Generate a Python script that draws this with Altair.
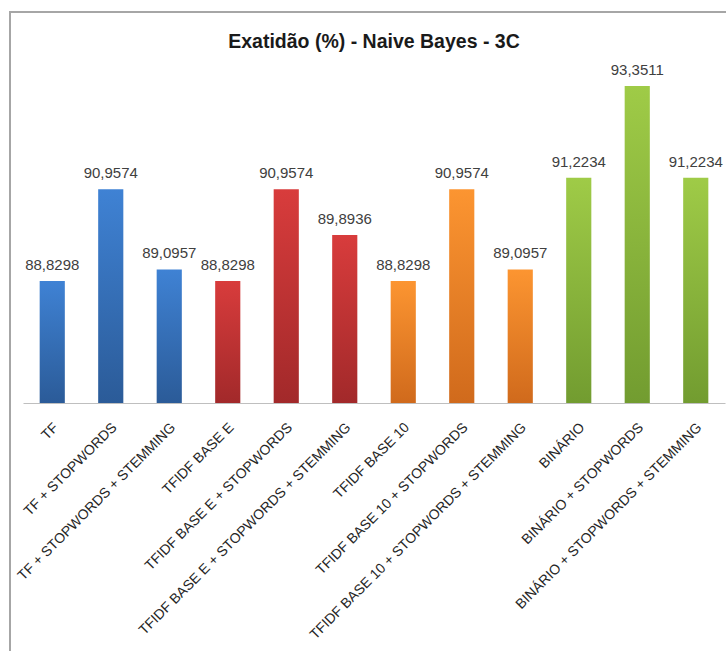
import altair as alt
import pandas as pd

categories = [
    "TF", "TF + STOPWORDS", "TF + STOPWORDS + STEMMING",
    "TFIDF BASE E", "TFIDF BASE E + STOPWORDS", "TFIDF BASE E + STOPWORDS + STEMMING",
    "TFIDF BASE 10", "TFIDF BASE 10 + STOPWORDS", "TFIDF BASE 10 + STOPWORDS + STEMMING",
    "BINÁRIO", "BINÁRIO + STOPWORDS", "BINÁRIO + STOPWORDS + STEMMING",
]
values = [88.8298, 90.9574, 89.0957, 88.8298, 90.9574, 89.8936,
          88.8298, 90.9574, 89.0957, 91.2234, 93.3511, 91.2234]
groups = ["TF"] * 3 + ["TFIDF E"] * 3 + ["TFIDF 10"] * 3 + ["BIN"] * 3

group_colors = {
    "TF": ("#3f82d4", "#2b5b98"),
    "TFIDF E": ("#d83c3c", "#a2292a"),
    "TFIDF 10": ("#fc9531", "#d06a1c"),
    "BIN": ("#9fcb47", "#729c30"),
}

df = pd.DataFrame({"cat": categories, "val": values, "grp": groups})

FONT = "Liberation Sans"

x_enc = alt.X("cat:N", sort=categories, title=None,
              scale=alt.Scale(paddingInner=0.57, paddingOuter=0.285),
              axis=alt.Axis(labelAngle=-45, labelAlign="right", labelBaseline="middle",
                            labelPadding=22, labelOffset=4, labelFontSize=14, labelFont=FONT,
                            labelColor="#262626", ticks=False, domainColor="#bfbfbf",
                            domainWidth=1, labelLimit=400))
y_enc = alt.Y("val:Q", title=None, axis=None,
              scale=alt.Scale(domain=[86, 94], zero=False, nice=False))

base = alt.Chart(df)

layers = []
for g, (top, bottom) in group_colors.items():
    grad = alt.Gradient(gradient="linear", x1=0, x2=0, y1=0, y2=1,
                        stops=[alt.GradientStop(color=top, offset=0),
                               alt.GradientStop(color=bottom, offset=1)])
    layers.append(
        base.transform_filter(alt.datum.grp == g)
        .mark_bar(color=grad)
        .encode(x=x_enc, y=y_enc, y2=alt.datum(86))
    )

labels = base.transform_calculate(
    lbl="replace(format(datum.val, '.4f'), '.', ',')"
).mark_text(baseline="bottom", dy=-8, fontSize=15, font=FONT, color="#404040").encode(
    x=x_enc, y=y_enc, text="lbl:N"
)

frame = alt.Chart(pd.DataFrame({"a": [0]})).mark_rect(
    fill=None, stroke="#a6a6a6", strokeWidth=2
).encode(
    x=alt.value(-13), x2=alt.value(900), y=alt.value(-46), y2=alt.value(900)
)

chart = alt.layer(frame, *layers, labels).properties(
    width=702, height=345,
    title=alt.TitleParams("Exatidão (%) - Naive Bayes - 3C", fontSize=19.5, font=FONT,
                          fontWeight="bold", color="#1a1a1a", offset=10, dy=51,
                          anchor="middle"),
    autosize=alt.AutoSizeParams(type="none"),
    padding={"left": 23, "top": 58, "right": 1, "bottom": 248},
).configure(background="white").configure_view(stroke=None)

chart.save("out.html", embed_options={"renderer": "svg", "actions": False})
